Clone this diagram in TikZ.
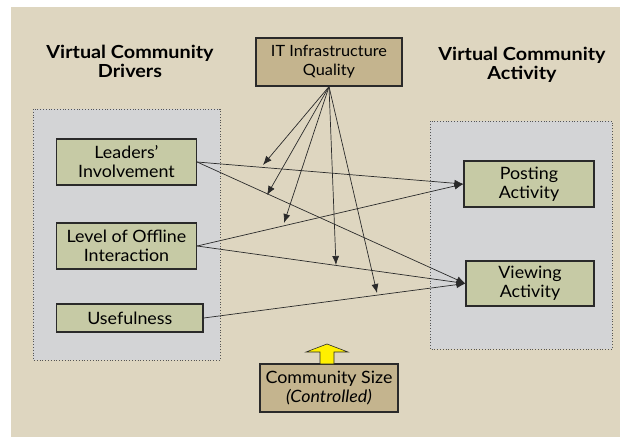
\documentclass[tikz,border=0pt]{standalone}
\usepackage{fontspec}
\setmainfont{Lato}
\newfontfamily\boxfont[FakeStretch=1.05]{Lato}
\newfontfamily\headfont[FakeStretch=1.1]{Lato}
\usetikzlibrary{arrows.meta}
\definecolor{bgbeige}{HTML}{DED6C0}
\definecolor{panelgray}{HTML}{D3D4D6}
\definecolor{boxgreen}{HTML}{C6CAA5}
\definecolor{boxtan}{HTML}{C4B48E}
\definecolor{linedark}{HTML}{2A2A2A}
\definecolor{arrowyellow}{HTML}{FFF000}
\tikzset{
  panel/.style={draw=linedark!80, dotted, line width=0.8pt, fill=panelgray},
  factor/.style={draw=linedark, line width=1.2pt, fill=boxgreen, align=center,
    font=\boxfont\fontsize{17}{19}\selectfont, inner sep=0pt},
  moderator/.style={draw=linedark, line width=1.2pt, fill=boxtan, align=center,
    font=\boxfont\fontsize{17}{19}\selectfont, inner sep=0pt},
  heading/.style={align=center, font=\headfont\fontsize{18}{19}\selectfont\bfseries},
  link/.style={draw=linedark, line width=0.7pt, -{Latex[length=9pt,width=7pt]}},
}
\begin{document}
\begin{tikzpicture}[x=1pt,y=-1pt]
  \useasboundingbox (0,0) rectangle (620,437);
  \fill[bgbeige] (11,7) rectangle (620,437);

  % grouping panels
  \draw[panel] (33,109) rectangle (220,360);
  \draw[panel] (430,121) rectangle (612,349);

  % column headings
  \node[heading] (hdrive) at (130,61) {Virtual Community\\Drivers};
  \node[heading] (hact) at (522,65) {Virtual Community\\Activity};

  % boxes
  \node[moderator, minimum width=146pt, minimum height=48pt,
        font=\boxfont\fontsize{15.5}{19}\selectfont] (it) at (329,62) {IT Infrastructure\\Quality};
  \node[factor, minimum width=140pt, minimum height=46pt] (lead) at (126.5,162) {Leaders’\\Involvement};
  \node[factor, minimum width=140pt, minimum height=46pt] (off) at (126.5,246) {Level of Offline\\Interaction};
  \node[factor, minimum width=146.5pt, minimum height=28pt] (use) at (129.8,318) {Usefulness};
  \node[factor, minimum width=130pt, minimum height=46pt] (post) at (529,184) {Posting\\Activity};
  \node[factor, minimum width=128pt, minimum height=45pt] (view) at (530,283.5) {Viewing\\Activity};
  \node[moderator, minimum width=138pt, minimum height=48pt] (size) at (329,388) {Community Size\\\textit{(Controlled)}};

  % control arrow
  \draw[draw=linedark, line width=0.6pt, fill=arrowyellow]
    (320,364) -- (320,352) -- (306,352) -- (327,344) -- (348,352) -- (334,352) -- (334,364) -- cycle;

  % moderation end points
  \coordinate (m1) at (263,165);
  \coordinate (m2) at (267,195);
  \coordinate (m3) at (284,223);
  \coordinate (m4) at (336,265);
  \coordinate (m5) at (377,293);

  \foreach \m in {m1,m2,m3,m4,m5} \draw[link] (it.south) -- (\m);

  % direct effects
  \draw[link] (lead.east) -- (post.west);
  \draw[link] (lead.east) -- (view.west);
  \draw[link] (off.east) -- (post.west);
  \draw[link] (off.east) -- (view.west);
  \draw[link] (use.east) -- (view.west);
\end{tikzpicture}
\end{document}
